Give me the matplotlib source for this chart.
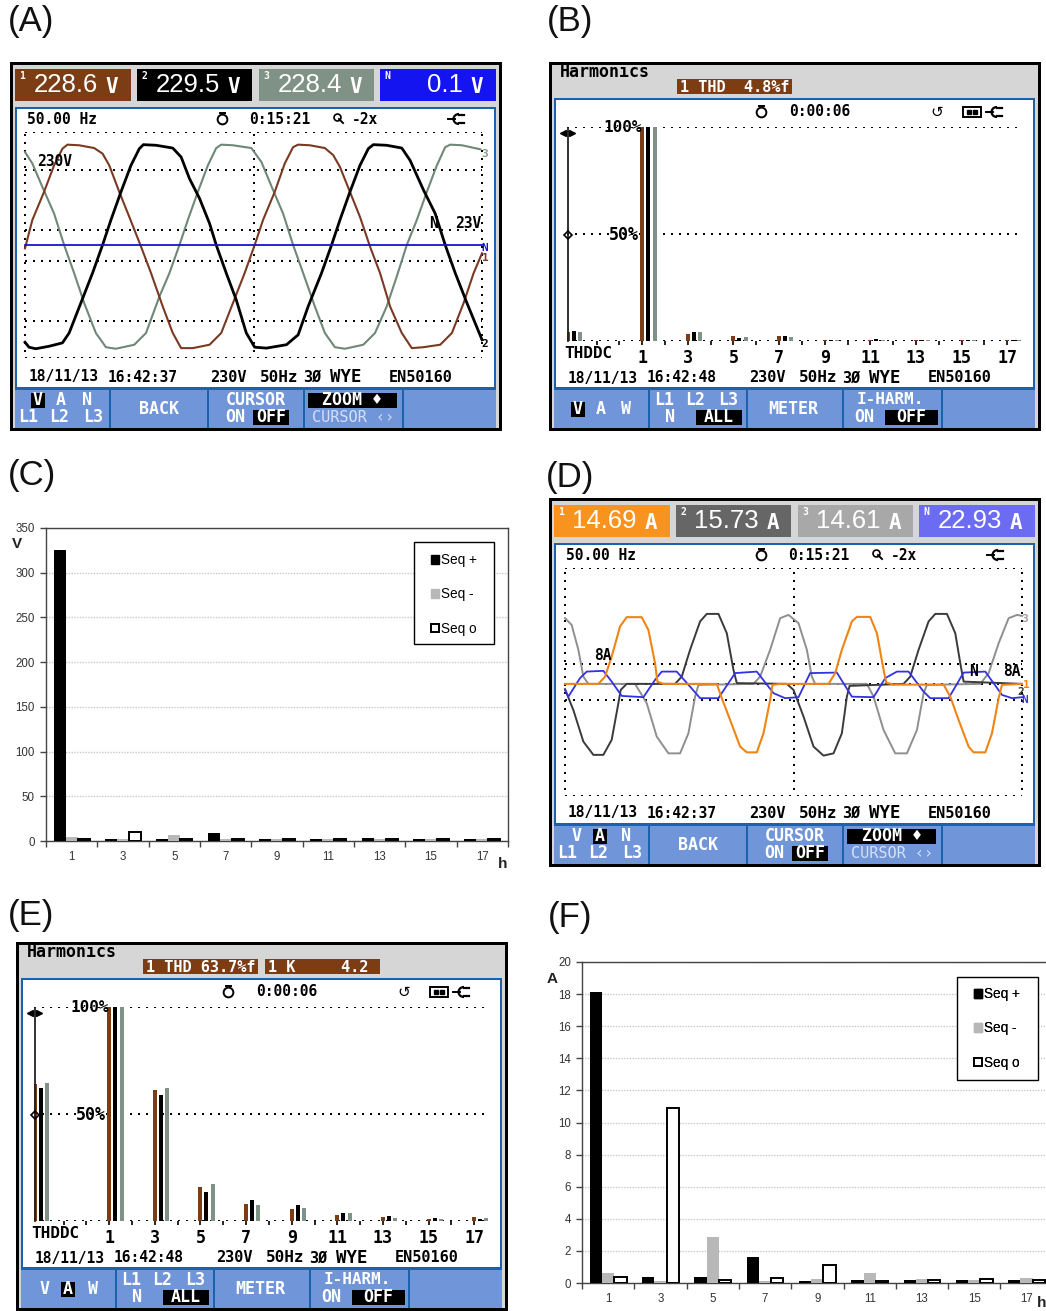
# plot.py
# power quality meter screens (A, B, D, E) and sequence bar charts (C, F)

import matplotlib
matplotlib.use('Agg')
import matplotlib.pyplot as plt
from matplotlib.patches import Rectangle, Arc

W, H = 1046, 1311

# --- panel A voltage waveforms
a_t1 = [0,22,57,87,112,127,162,207,232,252,282,312,347,377,412,442,467,502,552,587,622,657,687,712,747,777,802,817,852,897,922,942,972,1002,1032,1062,1092,1127,1157,1192,1242,1277,1312,1342,1367]
a_v1 = [-11,81,172,258,312,325,323,314,296,258,172,91,-5,-91,-199,-285,-334,-334,-323,-285,-188,-91,0,81,172,264,317,325,323,314,291,253,172,91,-5,-91,-199,-285,-334,-331,-323,-285,-188,-91,-27]
a_t2 = [0,12,32,72,112,132,167,202,232,257,287,317,342,354,392,442,467,492,522,552,572,602,632,662,687,722,782,817,847,887,917,942,972,1002,1027,1042,1082,1127,1152,1192,1227,1257,1287,1322,1367]
a_v2 = [-315,-331,-336,-328,-317,-285,-188,-91,0,81,172,258,312,325,323,314,285,215,151,70,0,-91,-178,-285,-331,-334,-323,-291,-199,-91,0,81,172,258,312,325,323,314,274,178,102,0,-91,-188,-307]
a_t3 = [0,22,52,87,117,147,177,212,242,272,327,362,402,432,462,487,517,547,572,587,622,677,707,742,772,802,832,867,897,927,957,1012,1047,1082,1112,1142,1172,1202,1232,1257,1272,1307,1362]
a_v3 = [301,264,188,102,0,-91,-188,-285,-331,-336,-323,-285,-167,-91,0,81,172,258,314,325,323,314,269,178,102,0,-91,-199,-285,-331,-336,-323,-285,-199,-102,0,81,172,258,317,325,323,310]
a_tn = [0,1367]
a_vn = [0,0]
a_grid = [366,242,48,-51,-247,-366]

# --- panel D current waveforms
d_t1 = [0,100,120,140,165,185,230,250,270,277,295,455,470,495,525,545,575,595,615,622,645,790,810,830,860,875,915,935,955,963,985,1135,1155,1180,1210,1225,1260,1280,1300,1310,1370]
d_i1 = [0,0,2.9,10.9,22.9,26.6,26.6,21.5,8.2,0.9,0,0,-5.7,-14.4,-25,-27.3,-27.3,-19.7,-6.4,-0.4,0,0,4.3,13.6,24.9,26.7,26.7,20.2,5.6,0.5,-0.3,-0.3,-5.1,-14.4,-25,-27.3,-27.3,-19.7,-5.7,-0.4,0]
d_t2 = [0,25,55,85,115,140,160,167,185,330,350,375,405,425,460,485,505,515,665,685,715,745,775,805,830,845,853,1015,1035,1060,1090,1110,1145,1170,1185,1195,1370]
d_i2 = [-2.1,-10.4,-23,-28.3,-28.3,-22.3,-7.7,-2.4,0,0,2.9,13.6,24.9,27.9,27.9,20.2,5.6,0.3,0,-2.4,-13,-25,-28.6,-27.7,-19.7,-5.1,-0.8,0,2.9,13.6,24.9,27.9,27.9,20.2,8.2,0.9,0]
d_t3 = [0,20,40,55,70,210,245,275,310,345,370,390,400,565,585,615,645,670,700,725,740,750,905,925,955,990,1025,1055,1075,1085,1245,1270,1300,1330,1355,1370]
d_i3 = [26.2,23.5,13.6,2.9,0,0,-7.7,-21,-27.7,-27.7,-19.7,-5.1,-0.4,0,2.9,13.6,26.2,27.5,24.2,13.6,2.9,0,0,-5.1,-18.4,-27.7,-27.7,-18.4,-3.7,-0.4,0,4.3,16.2,26.2,27.5,27.1]
d_tn = [0,10,45,65,115,140,170,235,270,290,335,375,405,460,510,575,625,660,700,735,815,860,925,960,995,1030,1075,1095,1150,1195,1260,1310,1340,1370]
d_in = [-2.4,-5.1,2.3,4.9,5.2,0.9,-4.8,-5.3,1.6,4.9,4.9,-1.1,-5.7,-5.7,4.3,4.9,-3.7,-5.7,-5.3,4.3,4.5,-5.1,-5.3,2.3,4.9,4.9,-3.1,-5.7,-5.7,4.5,4.9,-4.4,-5.7,-5.3]
d_grid = [46.2,8,0,-6.6,-44.7]

# --- harmonic spectrum panels, THD first then odd orders
harm_pos = [-2.25,1,3,5,7,9,11,13,15,17]
b_l1 = [4.4,100,3.5,2.2,2.2,0.5,0.6,0.6,0.5,0.6]
b_l2 = [4.6,100,4.2,1.5,2.2,0.7,0.8,0.7,0.7,0.6]
b_l3 = [4.2,100,4.2,1.8,2.0,0.4,0.5,0.4,0.4,0.4]
e_l1 = [64,100,61,15.8,7.9,5.7,2.9,1.7,0.8,1.7]
e_l2 = [62,100,59,13.6,10,7.3,3.7,2.3,1.5,1.1]
e_l3 = [64.5,100,62,17.2,7.3,5.9,3.6,1.2,0.8,1.2]

# --- sequence components
orders = ['1','3','5','7','9','11','13','15','17']
c_pos = [325,2,2,9,2,2,3,2,2]
c_neg = [4,2,7,2,2,2,2,2,2]
c_zero = [2,10,2,2,2,2,2,2,2]
f_pos = [18.1,0.4,0.4,1.6,0.1,0.2,0.2,0.2,0.2]
f_neg = [0.65,0.15,2.85,0.15,0.25,0.6,0.25,0.2,0.3]
f_zero = [0.35,10.9,0.2,0.3,1.15,0.1,0.2,0.25,0.2]

BROWN = '#7c3c14'
WAVE_BROWN = '#7a3a22'
GREEN = '#7f9285'
BTN = '#7095d8'
EDGE = '#1a62ae'
MONO = ['DejaVu Sans Mono', 'DejaVu Sans']
SANS = ['Liberation Sans', 'DejaVu Sans']
KEY = 12  # softkey text size
PX = 0.72  # one pixel in points at dpi 100

fig = plt.figure(figsize=(W / 100, H / 100), dpi=100, facecolor='white')


def pixel_axes(x0, y0, x1, y1, z):
    # axes placed with image pixels, y going down from the top
    ax = fig.add_axes([x0 / W, 1 - y1 / H, (x1 - x0) / W, (y1 - y0) / H], zorder=z)
    ax.patch.set_alpha(0)
    return ax


bg = pixel_axes(0, 0, W, H, 0)
bg.set_xlim(0, W)
bg.set_ylim(H, 0)
bg.axis('off')
fg = pixel_axes(0, 0, W, H, 5)
fg.set_xlim(0, W)
fg.set_ylim(H, 0)
fg.axis('off')


def box(x0, y0, x1, y1, color, **kw):
    bg.add_patch(Rectangle((x0, y0), x1 - x0, y1 - y0, facecolor=color, edgecolor='none', **kw))


def txt(x, y, s, size=10.5, color='black', ha='center', family=MONO, weight='bold'):
    fg.text(x, y, s, fontsize=size, color=color, ha=ha, va='center', family=family, fontweight=weight)


def inverted(x0, x1, y, s, size=KEY):
    box(x0, y - 7.5, x1, y + 7.5, 'black')
    txt((x0 + x1) / 2, y, s, size=size, color='white')


def dotted(ax, ys):
    for y in ys:
        ax.axhline(y, color='black', lw=2 * PX, ls=(0, (1, 3)), zorder=1)


def plug(x, y):
    fg.plot([x - 11, x - 4], [y, y], color='black', lw=1.4, clip_on=False)
    fg.add_patch(Arc((x, y), 11, 10, theta1=90, theta2=270, color='black', lw=1.6))
    fg.plot([x, x + 5], [y - 4, y - 4], color='black', lw=1.6)
    fg.plot([x, x + 5], [y + 4, y + 4], color='black', lw=1.6)


def clock(x, y):
    fg.plot([x], [y + 1], marker='o', ms=7, mfc='none', mec='black', mew=1.4)
    fg.plot([x - 2.5, x + 2.5], [y - 5, y - 5], color='black', lw=1.4)


def frame(x0, y0, screen_top):
    box(x0, y0, x0 + 492, y0 + 369, 'black')
    box(x0 + 3, y0 + 3, x0 + 489, y0 + 366, '#d6d6d6')
    box(x0 + 5, y0 + screen_top, x0 + 486, y0 + 326, EDGE)
    box(x0 + 7, y0 + screen_top + 2, x0 + 484, y0 + 325, 'white')
    box(x0 + 5, y0 + 326, x0 + 486, y0 + 366, BTN)
    for dx in [99, 197, 293, 392]:
        box(x0 + dx, y0 + 326, x0 + dx + 2, y0 + 366, EDGE)
    box(x0 + 5, y0 + 326, x0 + 486, y0 + 328, EDGE)


def status_line(x0, y0, dy, stamp):
    y = y0 + dy
    txt(x0 + 19, y, '18/11/13', ha='left')
    txt(x0 + 98, y, stamp, ha='left')
    txt(x0 + 200, y, '230V', size=11, ha='left')
    txt(x0 + 250, y, '50Hz', size=11.5, ha='left')
    txt(x0 + 293, y, '3Ø', size=11, ha='left')
    txt(x0 + 320, y, 'WYE', size=12.5, ha='left')
    txt(x0 + 379, y, 'EN50160', size=11, ha='left')


def scope_screen(x0, y0, badges, unit, sel):
    # badges and softkeys of the waveform screen
    frame(x0, y0, 45)
    starts = [5, 127, 249, 370]
    ends = [121, 242, 364, 486]
    for (tag, val, col), s, e in zip(badges, starts, ends):
        box(x0 + s, y0 + 7, x0 + e, y0 + 39, col)
        txt(x0 + s + 7, y0 + 14, tag, size=7, color='white')
        txt(x0 + s + 83, y0 + 23, val, size=18.5, color='white', ha='right', family=SANS, weight='normal')
        txt(x0 + s + 97, y0 + 25, unit, size=15, color='white')
    txt(x0 + 17, y0 + 57, '50.00 Hz', ha='left')
    clock(x0 + 212, y0 + 56)
    txt(x0 + 270, y0 + 57, '0:15:21')
    fg.plot([x0 + 327], [y0 + 55], marker='o', ms=5, mfc='none', mec='black', mew=1.2)
    fg.plot([x0 + 329, x0 + 333], [y0 + 57, y0 + 61], color='black', lw=1.4)
    txt(x0 + 355, y0 + 57, '-2x')
    plug(x0 + 449, y0 + 57)
    status_line(x0, y0, 315, '16:42:37')
    # softkeys
    yt, yb = y0 + 338, y0 + 355
    for lab, dx in zip(['V', 'A', 'N'], [28, 51, 77]):
        if lab == sel:
            inverted(x0 + dx - 7, x0 + dx + 7, yt, lab)
        else:
            txt(x0 + dx, yt, lab, size=KEY, color='white')
    for lab, dx in zip(['L1', 'L2', 'L3'], [18, 49, 83]):
        txt(x0 + dx, yb, lab, size=KEY, color='white')
    txt(x0 + 149, y0 + 347, 'BACK', size=KEY, color='white')
    txt(x0 + 246, yt, 'CURSOR', size=KEY, color='white')
    txt(x0 + 225, yb, 'ON', size=KEY, color='white')
    inverted(x0 + 243, x0 + 279, yb, 'OFF')
    inverted(x0 + 298, x0 + 387, yt, 'ZOOM ♦')
    txt(x0 + 343, yb, 'CURSOR ‹›', size=11, color='#d5e0f5', weight='normal')


def harm_screen(x0, y0, tags, sel, stamp):
    frame(x0, y0, 36)
    txt(x0 + 11, y0 + 10, 'Harmonics', size=12, ha='left')
    for s, e, label in tags:
        box(x0 + s, y0 + 17, x0 + e, y0 + 32, BROWN)
        txt(x0 + s + 3, y0 + 25, label, size=11, color='white', ha='left')
    clock(x0 + 212, y0 + 49)
    txt(x0 + 271, y0 + 50, '0:00:06')
    txt(x0 + 388, y0 + 50, '↺', family=['DejaVu Sans'], weight='normal', size=11)
    fg.add_patch(Rectangle((x0 + 414, y0 + 45), 18, 10, fill=False, ec='black', lw=1.4))
    fg.plot([x0 + 420, x0 + 426], [y0 + 50, y0 + 50], ls='none', marker='s', ms=2.2, color='black')
    plug(x0 + 448, y0 + 50)
    txt(x0 + 39, y0 + 292, 'THDDC', size=11.5)
    status_line(x0, y0, 316, stamp)
    # cursor on the left of the spectrum
    fg.plot([x0 + 18.7, x0 + 18.7], [y0 + 66, y0 + 279], color='#222222', lw=1.3)
    fg.plot([x0 + 14.3], [y0 + 71], marker='<', ms=4.5, color='black')
    fg.plot([x0 + 23.3], [y0 + 71], marker='>', ms=4.5, color='black')
    fg.plot([x0 + 18.7], [y0 + 173], marker='D', ms=4, mfc='none', mec='black', mew=1.2)
    txt(x0 + 74, y0 + 65, '100%', size=11.5)
    txt(x0 + 75, y0 + 173, '50%', size=12)
    # softkeys
    for lab, dx in zip(['V', 'A', 'W'], [29, 52, 77]):
        if lab == sel:
            inverted(x0 + dx - 7, x0 + dx + 7, y0 + 347, lab)
        else:
            txt(x0 + dx, y0 + 347, lab, size=KEY, color='white')
    for lab, dx in zip(['L1', 'L2', 'L3'], [115, 146, 179]):
        txt(x0 + dx, y0 + 338, lab, size=KEY, color='white')
    txt(x0 + 121, y0 + 355, 'N', size=KEY, color='white')
    inverted(x0 + 147, x0 + 193, y0 + 355, 'ALL')
    txt(x0 + 244, y0 + 347, 'METER', size=KEY, color='white')
    txt(x0 + 341, y0 + 338, 'I-HARM.', size=11.5, color='white')
    txt(x0 + 315, y0 + 355, 'ON', size=KEY, color='white')
    inverted(x0 + 336, x0 + 389, y0 + 355, 'OFF')


def scope_axes(x0, y0, x1, y1, xmax, ymin, ymax, grid, traces):
    ax = pixel_axes(x0, y0, x1, y1, 2)
    ax.set_xlim(0, xmax)
    ax.set_ylim(ymin, ymax)
    ax.axis('off')
    dotted(ax, grid)
    for xv in [0, xmax / 2, xmax]:
        ax.plot([xv, xv], [ymin + (ymax - ymin) * 0.025, ymax], color='black', lw=2 * PX, ls=(0, (1, 3)), clip_on=False)
    for t, v, col, lw in traces:
        ax.plot(t, v, color=col, lw=lw, clip_on=False, zorder=3)
    return ax


def harm_axes(x0, y0, l1, l2, l3):
    ax = pixel_axes(x0 + 18, y0 + 65, x0 + 473, y0 + 279, 2)
    ax.set_xlim(-2.3, 17.65)
    ax.set_ylim(0, 100)
    for s in ax.spines.values():
        s.set_visible(False)
    ax.set_yticks([])
    dotted(ax, [100, 50, 0])
    w = 0.175
    for vals, off, col in [(l1, 0, BROWN), (l2, 0.263, 'black'), (l3, 0.54, GREEN)]:
        ax.bar([p + off for p in harm_pos], vals, width=w, color=col, zorder=3)
    ax.set_xticks(range(-1, 18))
    ax.set_xticklabels(['' if (i < 1 or i % 2 == 0) else str(i) for i in range(-1, 18)],
                       fontsize=12, fontweight='bold', family=MONO)
    ax.tick_params(axis='x', length=3, width=1.2, pad=2.5)
    return ax


def seq_axes(x0, y0, x1, y1, xmax, ymax, step, pos, neg, zero, legend_box, legend_xy, unit, unit_xy):
    ax = pixel_axes(x0, y0, x1, y1, 2)
    ax.set_xlim(0, xmax)
    ax.set_ylim(0, ymax)
    w = 0.234
    centers = [i + 0.5 for i in range(len(orders))]
    ax.bar([c - w for c in centers], pos, width=w, color='black', zorder=3)
    ax.bar(centers, neg, width=w, color='#b8b8b8', zorder=3)
    ax.bar([c + w for c in centers], zero, width=w, facecolor='white', edgecolor='black', lw=1.4, zorder=3)
    ax.set_yticks(range(0, ymax + 1, step))
    ax.grid(axis='y', color='#c8c8c8', lw=1.0, ls=(0, (1, 1)), zorder=0)
    ax.set_axisbelow(True)
    ax.set_xticks(range(0, int(xmax) + 1))
    ax.set_xticklabels([])
    ax.set_xticks(centers, labels=orders, minor=True, fontsize=8.3, family=SANS, color='#333333')
    ax.tick_params(axis='x', which='major', length=4, width=1, color='#444444')
    ax.tick_params(axis='x', which='minor', length=0, pad=7)
    ax.tick_params(axis='y', length=4, width=1, color='#444444', labelsize=8.3, labelcolor='#333333', pad=4)
    for t in ax.get_yticklabels():
        t.set_family(SANS)
    for s in ax.spines.values():
        s.set_color('#444444')
        s.set_linewidth(1.0)
    # legend frame is drawn apart so its size can follow the picture
    bx0, by0, bx1, by1 = legend_box
    fg.add_patch(Rectangle((bx0, by0), bx1 - bx0, by1 - by0, fc='white', ec='black', lw=1.0, zorder=1))
    handles = [Rectangle((0, 0), 1, 1, fc='black', ec='black'),
               Rectangle((0, 0), 1, 1, fc='#b8b8b8', ec='#b8b8b8'),
               Rectangle((0, 0), 1, 1, fc='white', ec='black', lw=1.4)]
    leg = fg.legend(handles, ['Seq +', 'Seq -', 'Seq o'], loc='upper left',
                    bbox_to_anchor=(legend_xy[0] / W, 1 - legend_xy[1] / H), bbox_transform=fig.transFigure,
                    frameon=False, prop={'family': SANS, 'size': 9.8},
                    handlelength=0.62, handleheight=0.62, handletextpad=0.15, labelspacing=1.5,
                    borderpad=0, borderaxespad=0)
    leg.set_zorder(2)
    fg.add_artist(leg)
    txt(unit_xy[0], unit_xy[1], unit, size=11, family=SANS, color='#222222')
    return ax


# panel letters
for s, x, y in [('(A)', 31, 22), ('(B)', 570, 22), ('(C)', 32, 475), ('(D)', 570, 477), ('(E)', 31, 916), ('(F)', 570, 917)]:
    txt(x, y, s, size=25, family=SANS, weight='normal', color='#111111')

# A
scope_screen(10, 62, [('1', '228.6', BROWN), ('2', '229.5', 'black'), ('3', '228.4', GREEN), ('N', '0.1', '#1414f0')], 'V', 'V')
scope_axes(25, 132, 482, 358, 1367, -366, 366, a_grid,
           [(a_t3, a_v3, '#6f8878', 1.5), (a_t1, a_v1, WAVE_BROWN, 1.5), (a_t2, a_v2, 'black', 2.0), (a_tn, a_vn, '#1414d8', 1.3)])
txt(55, 162, '230V')
txt(433, 223, 'N')
txt(468, 223, '23V')
txt(485, 154, '3', color='#8a9a8f', size=8)
txt(485, 248, 'N', color='#1414d8', size=8)
txt(485, 258, '1', color=WAVE_BROWN, size=8)
txt(485, 344, '2', size=8)

# B
harm_screen(549, 62, [(128, 243, '1 THD  4.8%f')], 'V', '16:42:48')
harm_axes(549, 62, b_l1, b_l2, b_l3)

# C
seq_axes(46, 528, 508, 841, 9, 350, 50, c_pos, c_neg, c_zero, (414, 542, 494, 644), (431, 553), 'V', (17, 544))
txt(503, 864, 'h', size=11, family=SANS, color='#222222')

# D
scope_screen(549, 498, [('1', '14.69', '#f7931e'), ('2', '15.73', '#666666'), ('3', '14.61', '#a8a8a8'), ('N', '22.93', '#6c6cf2')], 'A', 'A')
scope_axes(565, 568, 1022, 796, 1370, -44.7, 46.2, d_grid,
           [(d_t3, d_i3, '#8f8f8f', 1.4), (d_t2, d_i2, '#3a3a3a', 1.4), (d_tn, d_in, '#3232e0', 1.3), (d_t1, d_i1, '#f08414', 1.5)])
txt(603, 656, '8A')
txt(973, 671, 'N')
txt(1012, 671, '8A')
txt(1025, 619, '3', color='#a0a0a0', size=8)
txt(1026, 685, '1', color='#f08414', size=8)
txt(1021, 692, '2', color='#3a3a3a', size=8)
txt(1025, 700, 'N', color='#3232e0', size=8)

# E
harm_screen(16, 942, [(127, 242, '1 THD 63.7%f'), (249, 364, '1 K     4.2')], 'A', '16:42:48')
harm_axes(16, 942, e_l1, e_l2, e_l3)

# F, the right side runs off the image
ax_f = seq_axes(582, 962, W, 1283, (W - 582) / 52.3, 20, 2, f_pos, f_neg, f_zero, (957, 977, 1038, 1080), (974, 987), 'A', (552, 979))
ax_f.spines['right'].set_visible(False)
txt(1037, 1303, 'h', size=11, family=SANS, color='#222222', ha='left')

fig.savefig('out.png', dpi=100, facecolor='white')
